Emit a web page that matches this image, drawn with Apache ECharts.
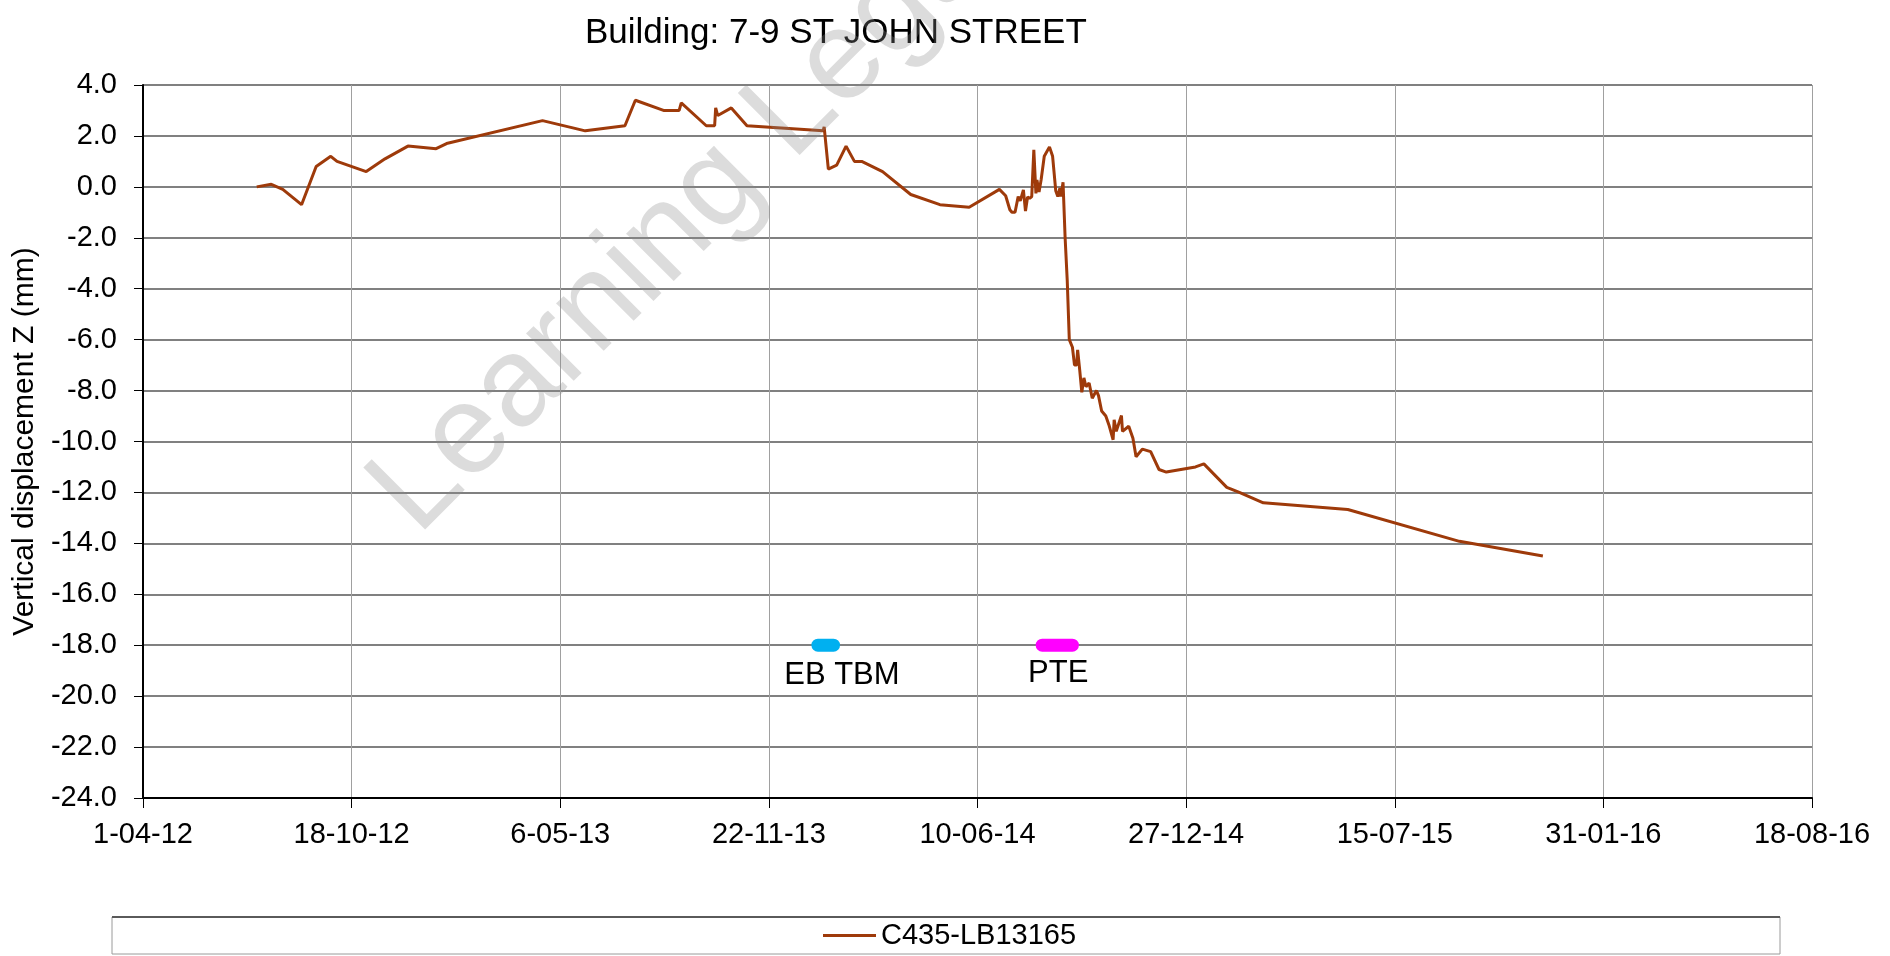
<!DOCTYPE html>
<html>
<head>
	<meta charset="utf-8">
	<title>Building: 7-9 ST JOHN STREET</title>
	<script src="https://cdn.jsdelivr.net/npm/echarts@6/dist/echarts.min.js"></script>
	<style type="text/css">
		html, body { margin: 0; padding: 0; background-color: #fff; }
		#chartBox { width: 1890px; height: 956px; }
	</style>
</head>
<body>
<div id="chartBox"></div>

<script>
	// monitoring point C435-LB13165, vertical displacement (mm)
	var readDates = [
		'2012-07-19', '2012-08-02', '2012-08-13', '2012-08-31', '2012-09-14', '2012-09-28', '2012-10-04', '2012-11-01',
		'2012-11-19', '2012-12-11', '2013-01-07', '2013-01-17', '2013-04-19', '2013-05-30', '2013-07-07', '2013-07-17',
		'2013-08-13', '2013-08-28', '2013-08-30', '2013-09-23', '2013-10-01', '2013-10-02', '2013-10-04', '2013-10-17',
		'2013-11-01', '2014-01-13', '2014-01-14', '2014-01-18', '2014-01-26', '2014-02-04', '2014-02-12', '2014-02-19',
		'2014-03-11', '2014-04-07', '2014-05-05', '2014-06-02', '2014-07-01', '2014-07-07', '2014-07-11', '2014-07-13',
		'2014-07-16', '2014-07-19', '2014-07-21', '2014-07-24', '2014-07-26', '2014-07-28', '2014-07-30', '2014-08-01',
		'2014-08-03', '2014-08-05', '2014-08-06', '2014-08-08', '2014-08-10', '2014-08-13', '2014-08-18', '2014-08-21',
		'2014-08-24', '2014-08-26', '2014-08-28', '2014-08-29', '2014-08-31', '2014-09-02', '2014-09-04', '2014-09-06',
		'2014-09-09', '2014-09-11', '2014-09-13', '2014-09-14', '2014-09-16', '2014-09-18', '2014-09-20', '2014-09-22',
		'2014-09-25', '2014-09-28', '2014-10-02', '2014-10-04', '2014-10-07', '2014-10-11', '2014-10-14', '2014-10-18',
		'2014-10-19', '2014-10-21', '2014-10-26', '2014-10-27', '2014-11-02', '2014-11-06', '2014-11-09', '2014-11-15',
		'2014-11-23', '2014-12-01', '2014-12-08', '2015-01-05', '2015-01-13', '2015-02-04', '2015-02-16', '2015-03-11',
		'2015-05-31', '2015-09-15', '2015-12-04'
	];
	var displacement = [
		0.0, 0.1, -0.1, -0.7, 0.8, 1.2, 1.0, 0.6,
		1.1, 1.6, 1.5, 1.7, 2.6, 2.2, 2.4, 3.4,
		3.0, 3.0, 3.3, 2.4, 2.4, 3.1, 2.8, 3.1,
		2.4, 2.2, 2.35, 0.7, 0.85, 1.6, 1.0, 1.0,
		0.6, -0.3, -0.7, -0.8, -0.1, -0.35, -0.9, -1.0,
		-1.0, -0.38, -0.55, -0.12, -0.95, -0.4, -0.45, -0.38,
		1.45, -0.26, 0.27, -0.2, 0.28, 1.2, 1.57, 1.2,
		-0.15, -0.38, -0.05, -0.38, 0.18, -2.0, -3.65, -6.0,
		-6.3, -7.0, -7.0, -6.4, -7.2, -8.07, -7.5, -7.85,
		-7.7, -8.3, -8.0, -8.2, -8.8, -9.0, -9.35, -9.93,
		-9.15, -9.6, -8.98, -9.6, -9.4, -9.87, -10.6, -10.3,
		-10.4, -11.1, -11.2, -11.0, -10.88, -11.8, -12.0, -12.41,
		-12.67, -13.92, -14.5
	];

	// construction events drawn at the -18 mm level
	var ebTbmDates = ['2014-01-08', '2014-01-23'];
	var pteDates = ['2014-08-11', '2014-09-09'];
	var eventLevel = -18;

	// axes: x ticks every 200 days from 1-04-12, y from -24 to 4
	var xStartDate = '2012-04-01';
	var xTickDays = 200;
	var xTickCount = 8;
	var yMin = -24;
	var yMax = 4;
	var yStep = 2;

	var FONT = '"Liberation Sans", Arial, sans-serif';
	var LINE_COLOR = '#9e3a0a';
	var DAY = 86400000;
	var base = Date.parse(xStartDate);

	function dayOf(s) {
		return (Date.parse(s) - base) / DAY;
	}
	function pad2(n) {
		return (n < 10 ? '0' : '') + n;
	}
	function fmtDay(d) {
		var t = new Date(base + d * DAY);
		return t.getUTCDate() + '-' + pad2(t.getUTCMonth() + 1) + '-' + pad2(t.getUTCFullYear() % 100);
	}

	var mainData = readDates.map(function (s, i) {
		return [dayOf(s), displacement[i]];
	});

	function eventData(dates, name, offset) {
		return dates.map(function (s, i) {
			var item = { value: [dayOf(s), eventLevel] };
			if (i === 0) {
				item.label = {
					show: true,
					position: 'inside',
					offset: offset,
					formatter: name,
					color: '#000',
					fontSize: 31,
					fontFamily: FONT
				};
			}
			return item;
		});
	}

	var chart = echarts.init(document.getElementById('chartBox'), null, { renderer: 'canvas' });

	var options = {
		animation: false,
		backgroundColor: '#fff',
		title: {
			text: 'Building: 7-9 ST JOHN STREET',
			left: 585,
			top: 16,
			padding: 0,
			textStyle: { fontSize: 35, fontWeight: 'normal', color: '#000', fontFamily: FONT }
		},
		grid: { left: 143, right: 78, top: 85, bottom: 158, containLabel: false },
		legend: {
			data: [{ name: 'C435-LB13165', icon: 'rect' }],
			left: 823,
			top: 921,
			padding: 0,
			itemWidth: 53,
			itemHeight: 3,
			itemStyle: { color: LINE_COLOR },
			textStyle: { fontSize: 29, color: '#000', fontFamily: FONT }
		},
		xAxis: {
			type: 'value',
			min: 0,
			max: xTickDays * xTickCount,
			interval: xTickDays,
			axisLine: { show: true, onZero: false, lineStyle: { color: '#000', width: 2 } },
			axisTick: { show: true, length: 10, lineStyle: { color: '#000', width: 1 } },
			axisLabel: {
				margin: 22,
				fontSize: 29,
				color: '#000',
				fontFamily: FONT,
				formatter: fmtDay
			},
			splitLine: { show: true, lineStyle: { color: '#a0a0a0', width: 1 } }
		},
		yAxis: {
			type: 'value',
			min: yMin,
			max: yMax,
			interval: yStep,
			name: 'Vertical displacement Z (mm)',
			nameLocation: 'middle',
			nameGap: 97,
			nameTextStyle: { fontSize: 30, color: '#000', fontFamily: FONT },
			axisLine: { show: true, onZero: false, lineStyle: { color: '#000', width: 2 } },
			axisTick: { show: true, length: 9, lineStyle: { color: '#000', width: 1 } },
			axisLabel: {
				margin: 26,
				fontSize: 29,
				color: '#000',
				fontFamily: FONT,
				formatter: function (v) { return v.toFixed(1); }
			},
			splitLine: { show: true, lineStyle: { color: '#808080', width: 2 } }
		},
		graphic: [
			{
				// legend frame
				type: 'rect',
				shape: { x: 112, y: 917, width: 1668, height: 37 },
				style: { fill: 'none', stroke: '#9a9a9a', lineWidth: 1 },
				z: 1
			},
			{
				type: 'line',
				shape: { x1: 112, y1: 917, x2: 1780, y2: 917 },
				style: { stroke: '#5a5a5a', lineWidth: 2 },
				z: 1
			},
			{
				// watermark
				type: 'text',
				x: 393,
				y: 512,
				rotation: Math.PI / 4,
				z: 100,
				silent: true,
				style: {
					text: 'Learning Legacy',
					font: '127px ' + FONT,
					fill: 'rgba(140,140,140,0.3)',
					align: 'left',
					verticalAlign: 'middle'
				}
			}
		],
		series: [
			{
				name: 'C435-LB13165',
				type: 'line',
				data: mainData,
				showSymbol: false,
				symbol: 'none',
				silent: true,
				lineStyle: { color: LINE_COLOR, width: 3 },
				itemStyle: { color: LINE_COLOR },
				z: 3
			},
			{
				name: 'EB TBM',
				type: 'line',
				data: eventData(ebTbmDates, 'EB TBM', [24, 30]),
				symbol: 'circle',
				symbolSize: 1,
				silent: true,
				lineStyle: { color: '#00b0f0', width: 13, cap: 'round' },
				itemStyle: { color: '#00b0f0' },
				z: 4
			},
			{
				name: 'PTE',
				type: 'line',
				data: eventData(pteDates, 'PTE', [16, 28]),
				symbol: 'circle',
				symbolSize: 1,
				silent: true,
				lineStyle: { color: '#ff00ff', width: 13, cap: 'round' },
				itemStyle: { color: '#ff00ff' },
				z: 4
			}
		]
	};
	chart.setOption(options);
</script>
</body>
</html>
